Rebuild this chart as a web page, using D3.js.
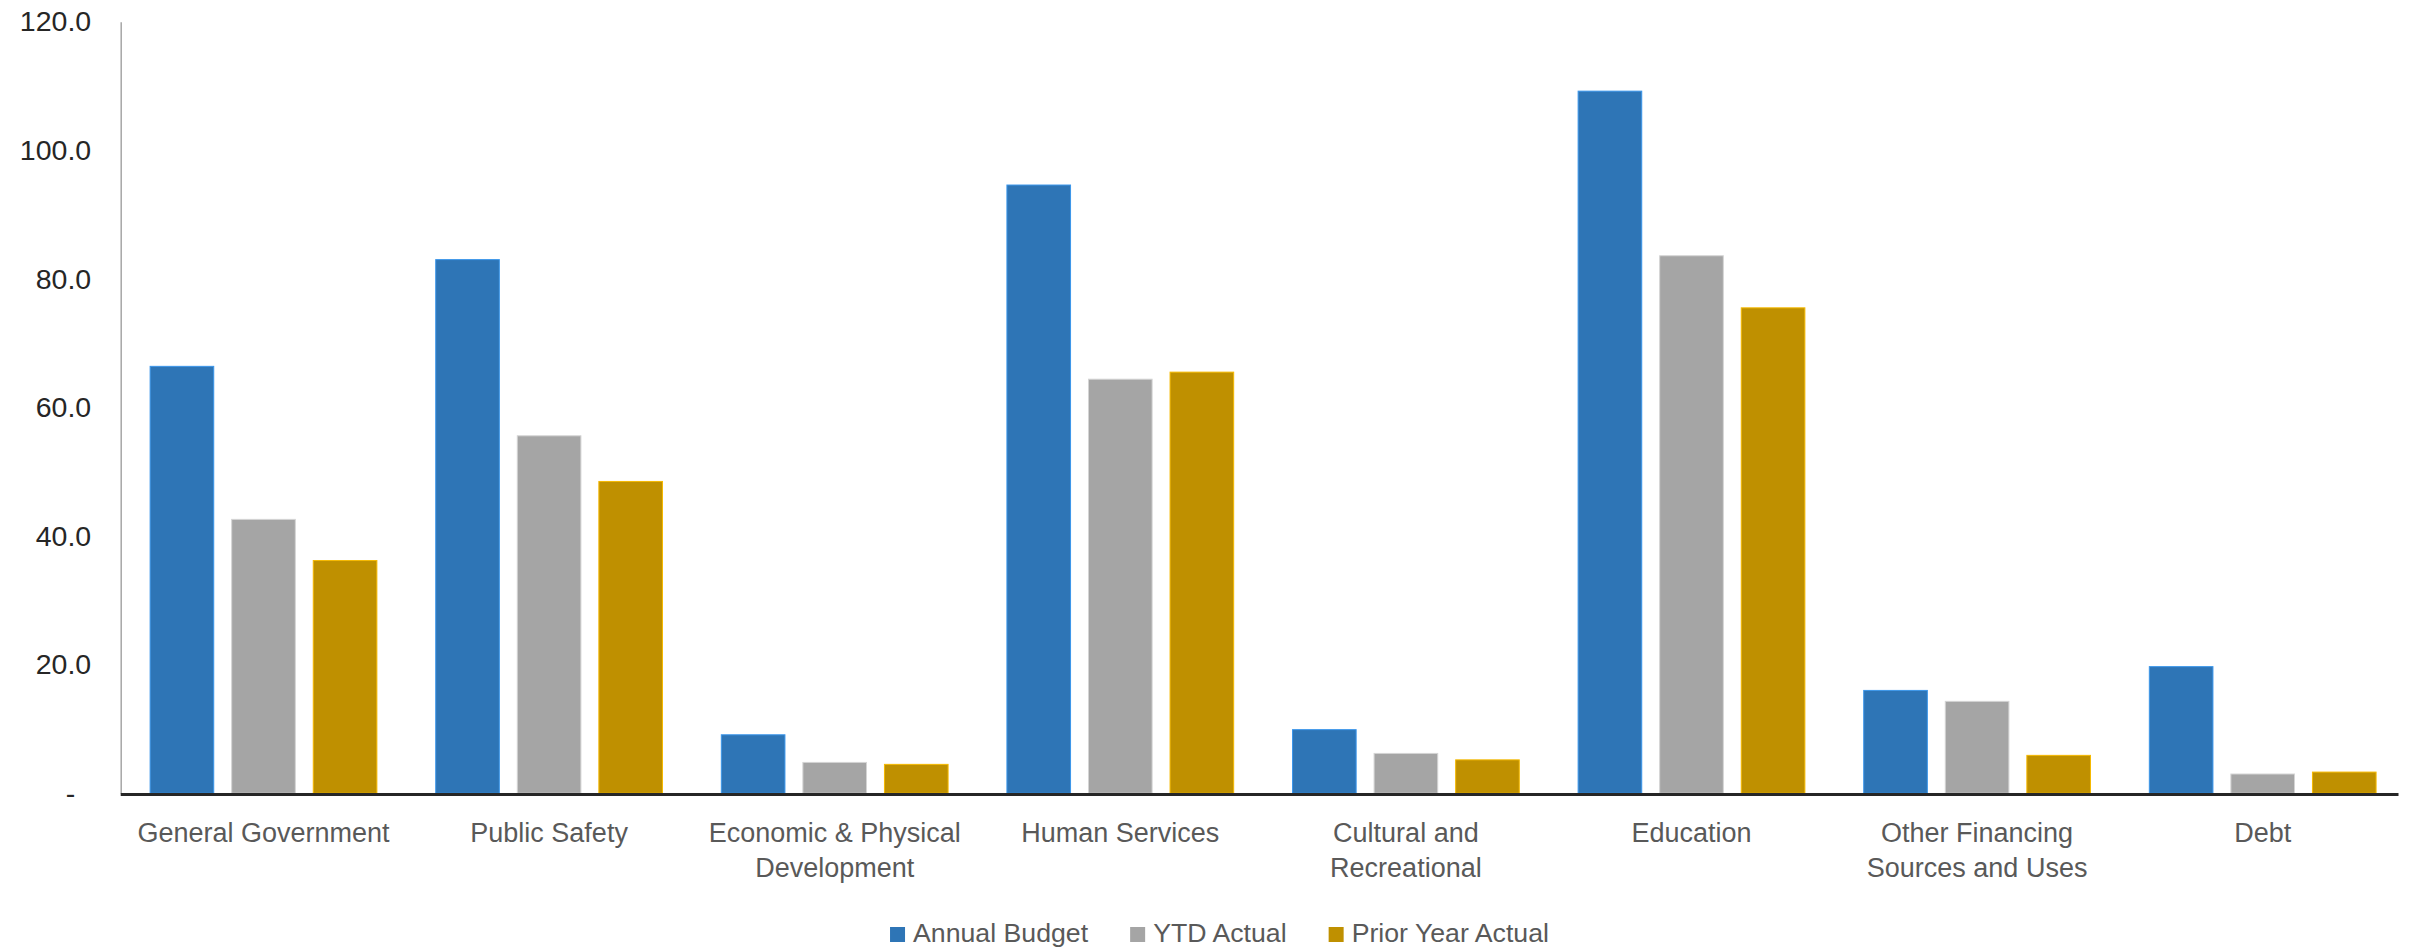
<!DOCTYPE html>
<html>
<head>
<meta charset="utf-8">
<title>Annual Budget vs YTD Actual</title>
<script src="https://d3js.org/d3.v7.min.js"></script>
<style>
	html, body { margin: 0; padding: 0; background: #fff; }
	svg { display: block; }
</style>
</head>
<body>
<div id="chart"></div>
<script>
// Chart data
const categories = [
	'General Government',
	'Public Safety',
	'Economic & Physical Development',
	'Human Services',
	'Cultural and Recreational',
	'Education',
	'Other Financing Sources and Uses',
	'Debt'
];
const seriesNames = ['Annual Budget', 'YTD Actual', 'Prior Year Actual'];
const annualBudget = [66.4, 83.0, 9.1, 94.6, 9.9, 109.2, 16.0, 19.7];
const ytdActual = [42.6, 55.6, 4.8, 64.4, 6.2, 83.6, 14.3, 3.0];
const priorYearActual = [36.2, 48.5, 4.5, 65.5, 5.2, 75.5, 5.9, 3.3];
const yTicks = [0, 20, 40, 60, 80, 100, 120];

(function() {
	const width = 2420;
	const height = 947;
	const font = '"Liberation Sans", Arial, sans-serif';

	// plot area
	const plot = { left: 120.7, right: 2405.5, top: 21.7, bottom: 793.3 };

	const seriesValues = [annualBudget, ytdActual, priorYearActual];
	const colors = ['#2E75B6', '#A5A5A5', '#BF9000'];
	const color = d3.scaleOrdinal().domain(seriesNames).range(colors);

	// long format rows for the bars
	const rows = categories.map((c, i) => ({
		category: c,
		values: seriesNames.map((s, j) => ({ series: s, value: seriesValues[j][i] }))
	}));

	const svg = d3.select('#chart')
		.append('svg')
		.attr('width', width)
		.attr('height', height)
		.style('font-family', font);

	const x0 = d3.scaleBand()
		.domain(categories)
		.range([plot.left, plot.right])
		.paddingInner(0.206)
		.paddingOuter(0.103);

	const x1 = d3.scaleBand()
		.domain(seriesNames)
		.range([0, x0.bandwidth()])
		.paddingInner(0.22);

	const y = d3.scaleLinear()
		.domain([0, 120])
		.range([plot.bottom, plot.top]);

	// y axis (no ticks, gray line, accounting style labels)
	const yAxis = d3.axisLeft(y)
		.tickValues(yTicks)
		.tickSize(0)
		.tickSizeOuter(0)
		.tickPadding(29.5)
		.tickFormat(d => d === 0 ? '-' : d3.format('.1f')(d));

	const yg = svg.append('g')
		.attr('transform', `translate(${plot.left},0)`)
		.call(yAxis);
	yg.select('.domain')
		.attr('stroke', '#A6A6A6')
		.attr('stroke-width', 1.5);
	yg.selectAll('.tick text')
		.attr('fill', '#262626')
		.style('font-size', '28.5px')
		.style('font-family', font)
		.attr('dx', d => d === 0 ? -16 : 0);

	// bars
	const groups = svg.append('g')
		.selectAll('g')
		.data(rows)
		.join('g')
		.attr('transform', d => `translate(${x0(d.category)},0)`);

	groups.selectAll('rect')
		.data(d => d.values)
		.join('rect')
		.attr('x', d => x1(d.series))
		.attr('y', d => y(d.value))
		.attr('width', x1.bandwidth())
		.attr('height', d => y(0) - y(d.value))
		.attr('fill', d => color(d.series))
		.attr('stroke', d => d3.color(color(d.series)).brighter(0.7))
		.attr('stroke-width', 1);

	// x axis baseline
	svg.append('line')
		.attr('x1', plot.left)
		.attr('x2', plot.right - 7)
		.attr('y1', y(0) + 1.2)
		.attr('y2', y(0) + 1.2)
		.attr('stroke', '#262626')
		.attr('stroke-width', 3);

	// category labels, wrapped to the band width
	const maxLabelWidth = x0.step() - 12;
	const labels = svg.append('g')
		.selectAll('text')
		.data(categories)
		.join('text')
		.attr('x', d => x0(d) + x0.bandwidth() / 2)
		.attr('y', 841.5)
		.attr('text-anchor', 'middle')
		.attr('fill', '#595959')
		.style('font-size', '27px');

	labels.each(function(d) {
		const text = d3.select(this);
		const words = d.split(' ');
		let line = [];
		let tspan = text.append('tspan').attr('x', text.attr('x')).attr('dy', 0);
		words.forEach(w => {
			line.push(w);
			tspan.text(line.join(' '));
			if (tspan.node().getComputedTextLength() > maxLabelWidth && line.length > 1) {
				line.pop();
				tspan.text(line.join(' '));
				line = [w];
				tspan = text.append('tspan')
					.attr('x', text.attr('x'))
					.attr('dy', 35.7)
					.text(w);
			}
		});
	});

	// legend, centred under the chart
	const legend = svg.append('g');
	const items = legend.selectAll('g')
		.data(seriesNames)
		.join('g');

	items.append('rect')
		.attr('width', 15)
		.attr('height', 15)
		.attr('y', -15)
		.attr('fill', d => color(d));

	items.append('text')
		.attr('x', 23)
		.attr('fill', '#595959')
		.style('font-size', '26.7px')
		.text(d => d);

	let offset = 0;
	items.each(function() {
		const g = d3.select(this);
		g.attr('transform', `translate(${offset},0)`);
		offset += 23 + g.select('text').node().getComputedTextLength() + 42;
	});
	const legendWidth = offset - 42;
	legend.attr('transform', `translate(${1219.5 - legendWidth / 2},942)`);
}());
</script>
</body>
</html>
